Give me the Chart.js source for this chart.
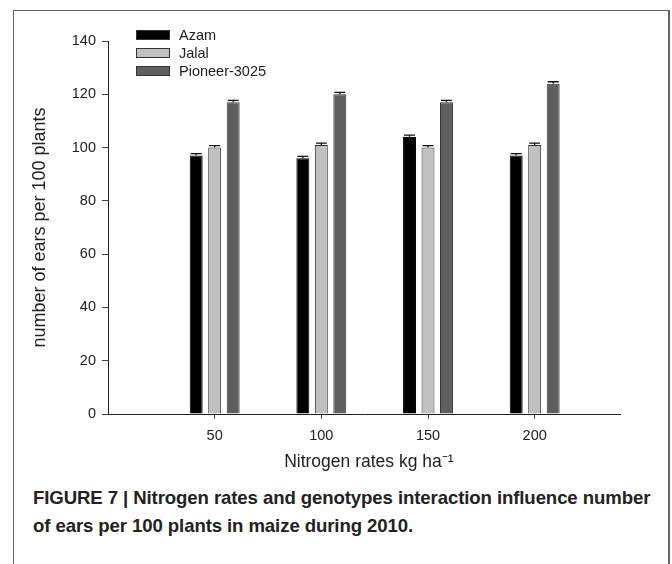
<!DOCTYPE html>
<html>
<head>
<meta charset="utf-8">
<script src="https://cdn.jsdelivr.net/npm/chart.js@4"></script>
<style>
  body { margin: 0; background: #fff; font-family: "Liberation Sans", Arial, sans-serif; }
  #wrap { position: relative; width: 672px; height: 564px; overflow: hidden; }
  #frame { position: absolute; left: 13px; top: 10px; width: 654px; height: 620px;
           border: 1px solid #666; border-bottom: none; border-right-width: 2px; }
  #ears { position: absolute; left: 0; top: 0; }
  .leg { position: absolute; left: 136px; font-size: 14.5px; color: #222; line-height: 16px; }
  .leg span { display: inline-block; width: 32px; height: 8px; border: 1px solid #333;
              vertical-align: middle; margin-right: 9px; margin-top: -2px; }
  #caption { position: absolute; left: 33px; top: 484px; width: 636px; font-weight: bold;
             font-size: 18.6px; line-height: 28px; color: #222; letter-spacing: -0.1px; }
</style>
</head>
<body>
<div id="wrap">
  <div id="frame"></div>
  <canvas id="ears" width="672" height="480"></canvas>
  <div class="leg" style="top:27px"><span style="background:#000"></span>Azam</div>
  <div class="leg" style="top:45px"><span style="background:#c0c0c0"></span>Jalal</div>
  <div class="leg" style="top:63px"><span style="background:#5f5f5f"></span>Pioneer-3025</div>
  <div id="caption">FIGURE 7 | Nitrogen rates and genotypes interaction influence number<br>of ears per 100 plants in maize during 2010.</div>
</div>
<script>
// nitrogen rates (kg/ha) on the x axis
const rates = [50, 100, 150, 200];

// ears per 100 plants
const azam = [97, 96, 104, 97];
const jalal = [100, 101, 100, 101];
const pioneer = [117, 120, 117, 124];

// standard errors (small caps on top of bars)
const azamErr = [0.7, 0.7, 0.7, 0.7];
const jalalErr = [0.7, 0.7, 0.7, 0.7];
const pioneerErr = [0.7, 0.7, 0.7, 0.7];

const yTicks = [0, 20, 40, 60, 80, 100, 120, 140];

function toPoints(values) {
    return rates.map((r, i) => ({ x: r, y: values[i] }));
}

// draws the little error bar caps above each bar
const errorBars = {
    id: "errorBars",
    afterDatasetsDraw(chart) {
        const ctx = chart.ctx;
        const yScale = chart.scales.y;
        chart.data.datasets.forEach((ds, di) => {
            const meta = chart.getDatasetMeta(di);
            meta.data.forEach((bar, i) => {
                const v = ds.data[i].y;
                const top = yScale.getPixelForValue(v + ds.errors[i]);
                const half = bar.width / 2 - 1;
                ctx.save();
                ctx.strokeStyle = "#111";
                ctx.lineWidth = 1.3;
                ctx.beginPath();
                ctx.moveTo(bar.x, bar.y);
                ctx.lineTo(bar.x, top);
                ctx.moveTo(bar.x - half, top);
                ctx.lineTo(bar.x + half, top);
                ctx.stroke();
                ctx.restore();
            });
        });
    }
};

const ctx = document.getElementById("ears").getContext("2d");

new Chart(ctx, {
    type: "bar",
    data: {
        datasets: [
            { label: "Azam", data: toPoints(azam), errors: azamErr,
              backgroundColor: "#000", borderColor: "#000", borderWidth: 1 },
            { label: "Jalal", data: toPoints(jalal), errors: jalalErr,
              backgroundColor: "#c0c0c0", borderColor: "#333", borderWidth: 1 },
            { label: "Pioneer-3025", data: toPoints(pioneer), errors: pioneerErr,
              backgroundColor: "#5f5f5f", borderColor: "#333", borderWidth: 1 }
        ]
    },
    options: {
        responsive: false,
        animation: false,
        categoryPercentage: 0.52,
        barPercentage: 0.7,
        layout: { padding: { left: 26, top: 41, right: 52, bottom: 6 } },
        plugins: { legend: { display: false }, tooltip: { enabled: false } },
        scales: {
            x: {
                type: "linear",
                offset: false,
                min: 0,
                max: 240,
                afterBuildTicks: (s) => { s.ticks = rates.map(v => ({ value: v })); },
                afterFit: (s) => { s.height = 60; },
                grid: { offset: false, drawOnChartArea: false, tickLength: 5, color: "#444" },
                border: { color: "#222", width: 1 },
                ticks: { color: "#222", font: { family: "Liberation Sans", size: 14.5 }, padding: 8 },
                title: { display: true, text: "  Nitrogen rates kg ha\u207B\u00B9", color: "#222",
                         font: { family: "Liberation Sans", size: 17.5 }, padding: { top: 0, bottom: 1 } }
            },
            y: {
                min: 0,
                max: 140,
                afterBuildTicks: (s) => { s.ticks = yTicks.map(v => ({ value: v })); },
                afterFit: (s) => { s.width = 82; },
                grid: { drawOnChartArea: false, tickLength: 6, color: "#444" },
                border: { color: "#222", width: 1 },
                ticks: { color: "#222", font: { family: "Liberation Sans", size: 14.5 }, padding: 6 },
                title: { display: true, text: "number of ears per 100 plants", color: "#222",
                         font: { family: "Liberation Sans", size: 18 }, padding: { top: 3, bottom: 0 } }
            }
        }
    },
    plugins: [errorBars]
});
</script>
</body>
</html>
